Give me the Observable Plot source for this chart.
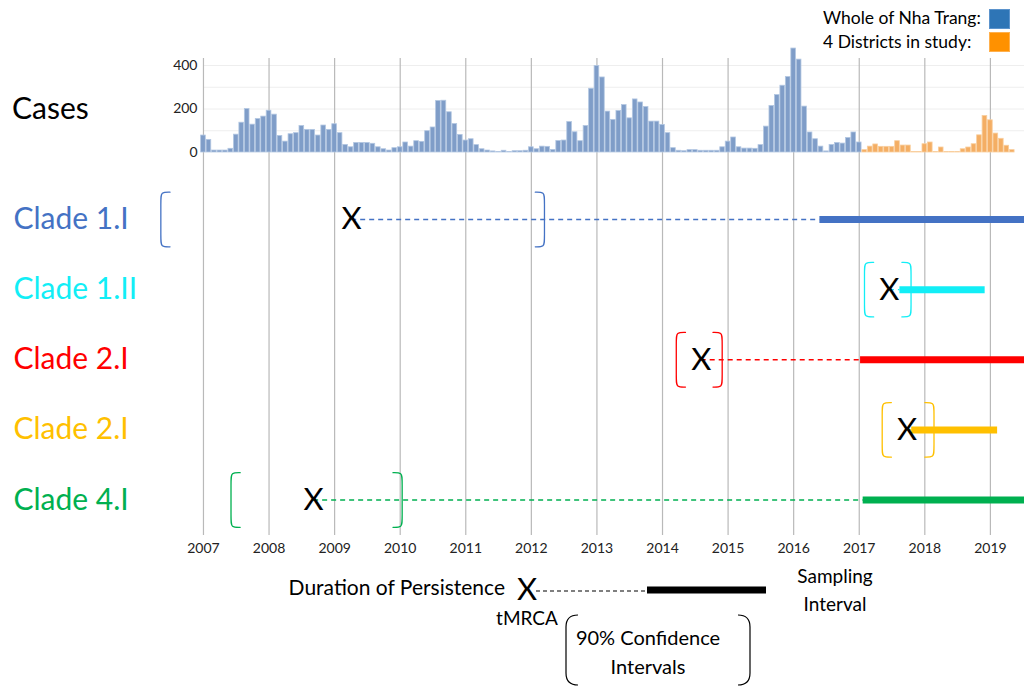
<!DOCTYPE html>
<html>
<head>
<meta charset="utf-8">
<script src="https://cdn.jsdelivr.net/npm/d3@7"></script>
<script src="https://cdn.jsdelivr.net/npm/@observablehq/plot@0.6"></script>
<style>
  html, body { margin: 0; padding: 0; background: #fff; }
  body { font-family: Lato, "Open Sans", sans-serif; }
  #wrap { position: relative; width: 1024px; height: 686px; overflow: hidden; }
  #casesPlot, #cladesPlot { position: absolute; left: 0; }
  #casesPlot { top: 40px; }
  #cladesPlot { top: 153px; }
  .lbl { position: absolute; white-space: nowrap; color: #000; }
  .sw { position: absolute; width: 21px; height: 20px; box-sizing: border-box; }
  #key { position: absolute; left: 0; top: 556px; }
</style>
</head>
<body>
<div id="wrap">
  <div id="casesPlot"></div>
  <div id="cladesPlot"></div>
  <div class="lbl" style="left:12px; top:89px; font-size:30px;">Cases</div>
  <div class="lbl" style="left:823px; top:7px; font-size:17.5px;">Whole of Nha Trang:</div>
  <div class="lbl" style="left:823px; top:31px; font-size:17.5px;">4 Districts in study:</div>
  <div class="sw" style="left:989px; top:9px; background:#2E75B6; border:1px solid #5b93cc;"></div>
  <div class="sw" style="left:989px; top:32px; background:#FF9100; border:1px solid #ffb04d;"></div>
  <svg id="key" width="1024" height="130" font-family="Lato, sans-serif">
    <text x="505" y="34" text-anchor="end" dominant-baseline="middle" font-size="21">Duration of Persistence</text>
    <line x1="536" x2="647" y1="35" y2="35" stroke="#000" stroke-width="1.2" stroke-dasharray="4,3"></line>
    <line x1="647" x2="766" y1="34" y2="34" stroke="#000" stroke-width="7"></line>
    <text x="527" y="36" text-anchor="middle" dominant-baseline="middle" font-size="31">X</text>
    <text x="835" y="22" text-anchor="middle" dominant-baseline="middle" font-size="19">Sampling</text>
    <text x="835" y="50" text-anchor="middle" dominant-baseline="middle" font-size="19">Interval</text>
    <text x="527" y="64" text-anchor="middle" dominant-baseline="middle" font-size="19">tMRCA</text>
    <path d="M578 59 Q566 59 566 71 L566 117 Q566 129 578 129" fill="none" stroke="#000" stroke-width="1.2"></path>
    <path d="M738 59 Q750 59 750 71 L750 117 Q750 129 738 129" fill="none" stroke="#000" stroke-width="1.2"></path>
    <text x="648" y="84" text-anchor="middle" dominant-baseline="middle" font-size="20">90% Confidence</text>
    <text x="648" y="113" text-anchor="middle" dominant-baseline="middle" font-size="20">Intervals</text>
  </svg>
</div>
<script>
// ---------------- data ----------------
const years = [2007, 2008, 2009, 2010, 2011, 2012, 2013, 2014, 2015, 2016, 2017, 2018, 2019];
const caseTicks = [0, 200, 400];
const caseGrid = [100, 200, 300, 400];

// Monthly dengue cases, whole of Nha Trang, Jan 2007 - Jan 2017
const wholeNhaTrang = [
  78, 58, 9, 9, 9, 17, 82, 137, 200, 128, 154, 165,
  192, 174, 76, 50, 84, 89, 122, 104, 104, 78, 124, 104,
  130, 89, 35, 24, 44, 44, 44, 40, 24, 15, 9, 20,
  24, 46, 27, 52, 49, 98, 115, 237, 238, 185, 131, 81,
  55, 61, 34, 15, 9, 5, 2, 8, 2, 6, 6, 8,
  24, 15, 27, 26, 12, 53, 55, 140, 93, 52, 122, 293,
  398, 345, 188, 150, 191, 218, 157, 244, 230, 209, 142, 142,
  127, 89, 20, 8, 6, 11, 11, 8, 8, 8, 8, 24,
  50, 69, 24, 18, 18, 17, 34, 119, 214, 264, 307, 347,
  478, 427, 211, 92, 61, 27, 5, 35, 44, 41, 67, 92,
  46
];
const wholeStart = 2007;           // first month: Jan 2007

// Monthly cases, 4 districts in study, Feb 2017 - May 2019
const districts = [
  11, 27, 37, 26, 26, 26, 52, 32, 32, 2, 2,
  38, 46, 2, 23, 2, 2, 2, 15, 23, 38, 79, 168,
  148, 87, 63, 31, 11
];
const districtsStart = 2017 + 1 / 12; // first month: Feb 2017

// Clades
const cladeNames = ["Clade 1.I", "Clade 1.II", "Clade 2.I", "Clade 2.I", "Clade 4.I"];
const cladeColors = ["#4472C4", "#12EEF6", "#FF0000", "#FFC000", "#00B050"];
const tmrca = [2009.26, 2017.46, 2014.59, 2017.73, 2008.68];
const ciLow = [2006.35, 2017.08, 2014.21, 2017.35, 2007.42];
const ciHigh = [2012.20, 2017.79, 2014.91, 2018.14, 2010.03];
const samplingStart = [2016.40, 2017.62, 2017.02, 2017.80, 2017.06];
const samplingEnd = [2019.7, 2018.92, 2019.7, 2019.11, 2019.7];

(function () {
  const xDomain = [2003.905, 2019.52];
  const monthW = 1 / 12;
  const wholeData = wholeNhaTrang.map((v, i) => ({t: wholeStart + i * monthW, cases: v}));
  const distData = districts.map((v, i) => ({t: districtsStart + i * monthW, cases: v}));

  const clades = cladeNames.map((name, i) => ({
    row: i, name, color: cladeColors[i], tmrca: tmrca[i],
    ciLow: ciLow[i], ciHigh: ciHigh[i], s0: samplingStart[i], s1: samplingEnd[i]
  }));

  // bracket outlines for 90% CI (rounded square brackets)
  const H = 0.39, hook = 0.14, r = 0.1;
  const bracketPts = [];
  clades.forEach(c => {
    [["L", c.ciLow, 1], ["R", c.ciHigh, -1]].forEach(([side, e, s]) => {
      const y0 = c.row - H, y1 = c.row + H;
      [[e + s * hook, y0], [e, y0], [e, y0 + r], [e, y1 - r], [e, y1], [e + s * hook, y1]]
        .forEach(([x, y]) => bracketPts.push({id: c.row + side, x, y, color: c.color}));
    });
  });

  const font = "Lato, 'Open Sans', sans-serif";

  // ---------------- top: case counts ----------------
  const casesChart = Plot.plot({
    width: 1024, height: 126,
    marginLeft: 0, marginRight: 0, marginTop: 18, marginBottom: 13,
    style: {fontFamily: font, color: "#222", background: "transparent"},
    x: {domain: xDomain, axis: null},
    y: {domain: [0, 400], range: [112, 25], axis: null},
    marks: [
      Plot.ruleY(caseGrid, {y: d => d, x1: wholeStart, x2: xDomain[1], stroke: "#eeeeee", strokeWidth: 1}),
      Plot.ruleX(years, {x: d => d, stroke: "#b9b9b9", strokeWidth: 1.2}),
      Plot.rectY(wholeData, {x1: d => d.t - monthW / 2, x2: d => d.t + monthW / 2, y: "cases",
        fill: "#7f9dc8", stroke: "#b3c7e2", strokeWidth: 0.8, insetLeft: 0.4, insetRight: 0.4}),
      Plot.rectY(distData, {x1: d => d.t - monthW / 2, x2: d => d.t + monthW / 2, y: "cases",
        fill: "#f4ae64", stroke: "#f9cf9f", strokeWidth: 0.8, insetLeft: 0.4, insetRight: 0.4}),
      Plot.text(caseTicks, {y: d => d, text: d => String(d), frameAnchor: "left", textAnchor: "end",
        dx: 197, fontSize: 14, fill: "#222"})
    ]
  });
  document.getElementById("casesPlot").appendChild(casesChart);

  // ---------------- bottom: clades ----------------
  const cladesChart = Plot.plot({
    width: 1024, height: 409,
    marginLeft: 0, marginRight: 0, marginTop: 0, marginBottom: 27,
    style: {fontFamily: font, color: "#222", background: "transparent"},
    x: {domain: xDomain, axis: null},
    y: {domain: [0, clades.length - 1], range: [66, 346.5], axis: null},
    color: {type: "identity"},
    marks: [
      Plot.ruleX(years, {x: d => d, stroke: "#b9b9b9", strokeWidth: 1.2}),
      Plot.axisX({ticks: years, tickFormat: "d", tickSize: 0, tickPadding: 8, fontSize: 14}),
      Plot.line(bracketPts, {x: "x", y: "y", z: "id", stroke: "color", strokeWidth: 1.3, curve: "basis"}),
      Plot.ruleY(clades, {y: "row", x1: "tmrca", x2: "s0", stroke: "color", strokeWidth: 1.3, strokeDasharray: "5,4"}),
      Plot.ruleY(clades, {y: "row", x1: "s0", x2: "s1", stroke: "color", strokeWidth: 7}),
      Plot.text(clades, {x: "tmrca", y: "row", text: () => "X", fontSize: 31, fill: "#000"}),
      Plot.text(clades, {y: "row", text: "name", frameAnchor: "left", textAnchor: "start", dx: 13,
        fill: "color", fontSize: 30})
    ]
  });
  document.getElementById("cladesPlot").appendChild(cladesChart);
})();
</script>
</body>
</html>
